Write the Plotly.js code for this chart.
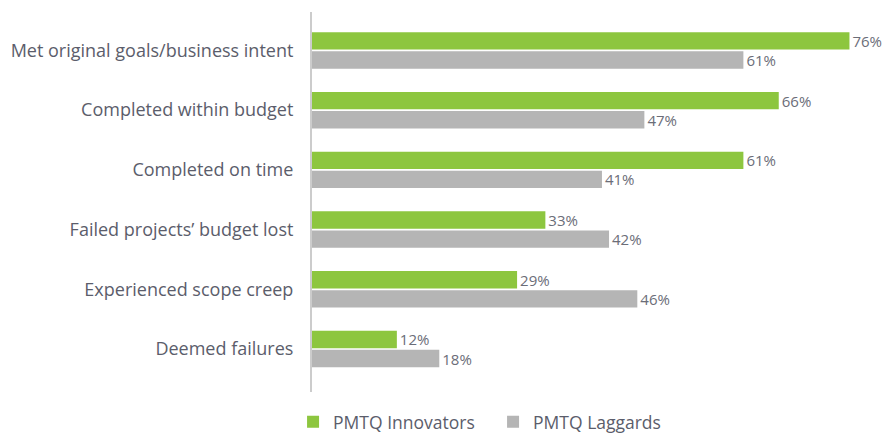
<!DOCTYPE html>
<html><head><meta charset="utf-8">
<script src="https://cdn.plot.ly/plotly-3.0.1.min.js"></script>
<style>body{margin:0;background:#fff}#c{width:883px;height:434px}</style>
</head><body><div id="c"></div>
<script>
const categories = ["Met original goals/business intent","Completed within budget","Completed on time","Failed projects’ budget lost","Experienced scope creep","Deemed failures"];
const innovators = [76, 66, 61, 33, 29, 12];
const laggards = [61, 47, 41, 42, 46, 18];
const seriesNames = ["PMTQ Innovators", "PMTQ Laggards"];
const font = "Open Sans, Noto Sans, sans-serif";
const textColor = "#5b5d6b";
function tr(vals, name, color){
  return {type:'bar', orientation:'h', y:categories, x:vals, name:name,
    marker:{color:color}, text:vals.map(v=>v+'%'), textposition:'outside', constraintext:'none',
    cliponaxis:false, textfont:{family:font,size:15,color:'#6b6d78'}, hoverinfo:'none'};
}
const data = [tr(innovators, seriesNames[0], '#8dc63f'), tr(laggards, seriesNames[1], '#b5b5b5')];
const layout = {
  width:883, height:434, margin:{l:312, r:30, t:12, b:42},
  paper_bgcolor:'#fff', plot_bgcolor:'#fff',
  barmode:'group', bargap:0.36, bargroupgap:0.09,
  font:{family:font, color:textColor},
  xaxis:{range:[0,76.5], visible:false, showgrid:false, zeroline:false, fixedrange:true},
  yaxis:{autorange:false, range:[5.72,-0.644], showline:true, linecolor:'#cccccc', linewidth:2,
    ticks:'', ticklen:0, ticklabelstandoff:13, tickfont:{family:font,size:18,color:textColor}, showgrid:false, zeroline:false},
  showlegend:true,
  legend:{orientation:'h', x:-0.035, xanchor:'left', yref:'container', y:0.028, yanchor:'middle',
    font:{family:font,size:17.5,color:textColor}, itemwidth:30, entrywidth:155, traceorder:'normal'}
};
Plotly.newPlot('c', data, layout, {displayModeBar:false, staticPlot:true});
</script></body></html>
